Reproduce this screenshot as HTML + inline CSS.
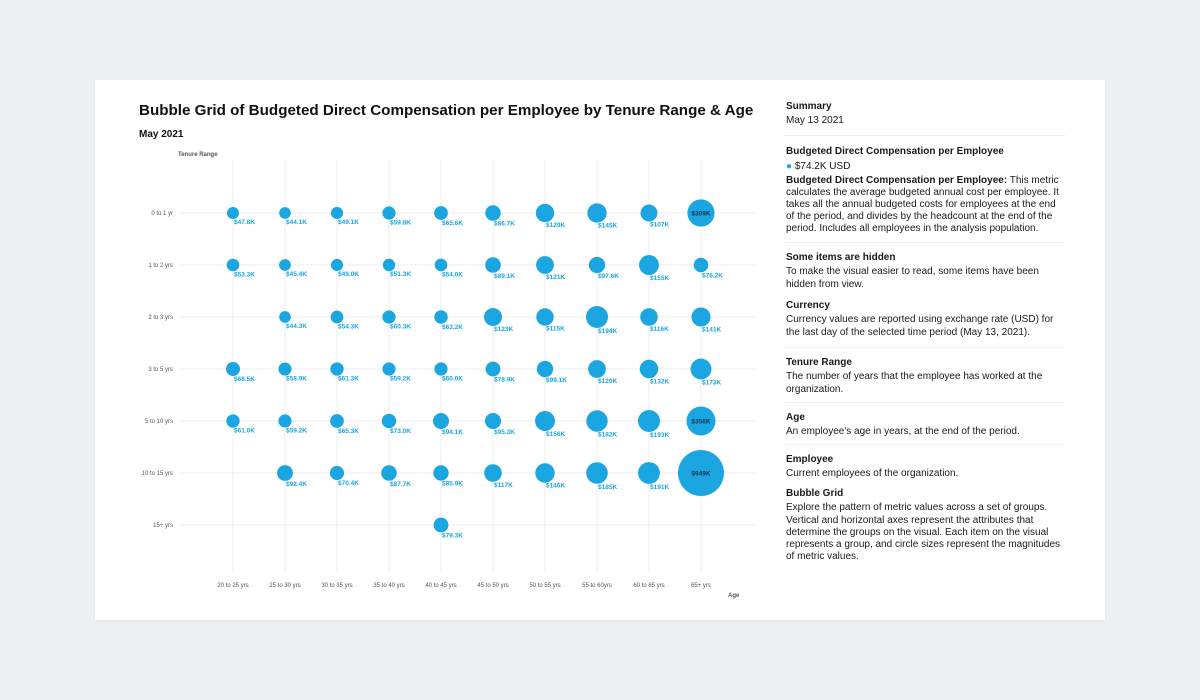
<!DOCTYPE html>
<html><head><meta charset="utf-8">
<style>
body{margin:0;width:1200px;height:700px;background:#eef0f4;font-family:"Liberation Sans",sans-serif;overflow:hidden;position:relative}
#card{position:absolute;left:95px;top:80px;width:1010px;height:540px;background:#fff;box-shadow:0 1px 3px rgba(0,0,0,0.06)}
.blk{position:absolute;left:786px;width:276px;font-size:10px;line-height:12.3px;color:#1a1a1a}
.blk b{font-weight:bold}
.hd{font-weight:bold;font-size:10px;margin-bottom:2px}
.div{position:absolute;left:785px;width:280px;height:1px;background:#eceef1}
svg{position:absolute;left:0;top:0}
</style></head><body>
<div id="card"></div>
<svg id="chart" width="1200" height="700">
<text x="139" y="115" font-size="15.2" font-weight="bold" fill="#111">Bubble Grid of Budgeted Direct Compensation per Employee by Tenure Range &amp; Age</text>
<text x="139" y="137" font-size="10" font-weight="bold" fill="#111">May 2021</text>
<text x="178" y="156" font-size="6" font-weight="bold" fill="#555">Tenure Range</text>
<text x="728" y="597" font-size="6" font-weight="bold" fill="#555">Age</text>
<g id="grid"></g><g id="marks"></g>
</svg>

<div class="blk" style="top:101px"><div class="hd">Summary</div><div>May 13 2021</div></div>
<div class="div" style="top:135px"></div>
<div class="blk" style="top:146px"><div class="hd">Budgeted Direct Compensation per Employee</div><div style="line-height:13px"><span style="color:#1ba6e1">●</span> $74.2K USD</div><div style="margin-top:2px;line-height:12px"><b>Budgeted Direct Compensation per Employee:</b> This metric calculates the average budgeted annual cost per employee. It takes all the annual budgeted costs for employees at the end of the period, and divides by the headcount at the end of the period. Includes all employees in the analysis population.</div></div>
<div class="div" style="top:242px"></div>
<div class="blk" style="top:252px"><div class="hd">Some items are hidden</div><div>To make the visual easier to read, some items have been hidden from view.</div></div>
<div class="blk" style="top:300px"><div class="hd">Currency</div><div>Currency values are reported using exchange rate (USD) for the last day of the selected time period (May 13, 2021).</div></div>
<div class="div" style="top:347px"></div>
<div class="blk" style="top:357px"><div class="hd">Tenure Range</div><div>The number of years that the employee has worked at the organization.</div></div>
<div class="div" style="top:402px"></div>
<div class="blk" style="top:412px"><div class="hd">Age</div><div>An employee's age in years, at the end of the period.</div></div>
<div class="div" style="top:444px"></div>
<div class="blk" style="top:454px"><div class="hd">Employee</div><div>Current employees of the organization.</div></div>
<div class="blk" style="top:488px"><div class="hd">Bubble Grid</div><div>Explore the pattern of metric values across a set of groups. Vertical and horizontal axes represent the attributes that determine the groups on the visual. Each item on the visual represents a group, and circle sizes represent the magnitudes of metric values.</div></div>

<script>
const ages = ["20 to 25 yrs","25 to 30 yrs","30 to 35 yrs","35 to 40 yrs","40 to 45 yrs","45 to 50 yrs","50 to 55 yrs","55 to 60yrs","60 to 65 yrs","65+ yrs"];
const tenures = ["0 to 1 yr","1 to 2 yrs","2 to 3 yrs","3 to 5 yrs","5 to 10 yrs","10 to 15 yrs","15+ yrs"];
const row0 = [47.8,44.1,49.1,59.8,65.6,86.7,129,145,107,309];
const row1 = [53.3,45.4,49.0,51.3,54.0,89.1,121,97.6,155,76.2];
const row2 = [null,44.3,54.3,60.3,63.2,123,115,194,116,141];
const row3 = [68.5,58.9,61.3,59.2,60.0,78.9,99.1,120,132,173];
const row4 = [61.0,59.2,65.3,73.0,94.1,95.3,156,182,193,356];
const row5 = [null,92.4,70.4,87.7,85.9,117,146,185,191,949];
const row6 = [null,null,null,null,79.3,null,null,null,null,null];
const rows = [row0,row1,row2,row3,row4,row5,row6];
const xS = i => 233 + i*52;
const yS = j => 213 + j*52;
const rS = v => 1.1 + 0.711*Math.sqrt(v);
const fmt = v => v>=100 ? "$"+Math.round(v)+"K" : "$"+v.toFixed(1)+"K";
const NS="http://www.w3.org/2000/svg";
const grid=document.getElementById('grid'), marks=document.getElementById('marks');
function mk(p,tag,attrs){const e=document.createElementNS(NS,tag);for(const k in attrs)e.setAttribute(k,attrs[k]);p.appendChild(e);return e;}
ages.forEach((a,i)=>{
  const l=mk(grid,'line',{x1:xS(i),x2:xS(i),y1:160,y2:573,stroke:'#ececef','stroke-width':1});
  
  
  const t=mk(grid,'text',{x:xS(i),y:587,'font-size':6,fill:'#555','text-anchor':'middle'});
  t.textContent=a;
  
  
});
tenures.forEach((tn,j)=>{
  const l=mk(grid,'line',{x1:180,x2:755,y1:yS(j),y2:yS(j),stroke:'#ececef','stroke-width':1});
  
  
  const t=mk(grid,'text',{x:173,y:yS(j)+2,'font-size':6,fill:'#555','text-anchor':'end'});
  t.textContent=tn;
  
  
});
rows.forEach((row,j)=>row.forEach((v,i)=>{
  if(v==null)return;
  const r=rS(v);
  const c=mk(marks,'circle',{cx:xS(i),cy:yS(j),r:r,fill:'#1ba6e1'});
  
  
  let t;
  if(v>=300){t=mk(marks,'text',{x:xS(i),y:yS(j)+2.5,'font-size':6.5,'font-weight':'bold',fill:'#1a3550','text-anchor':'middle'});}
  else{t=mk(marks,'text',{x:xS(i)+1,y:yS(j)+r+5,'font-size':6.5,'font-weight':'bold',fill:'#1ba6e1'});}
  t.textContent=fmt(v);
  
  
}));
</script>
</body></html>
